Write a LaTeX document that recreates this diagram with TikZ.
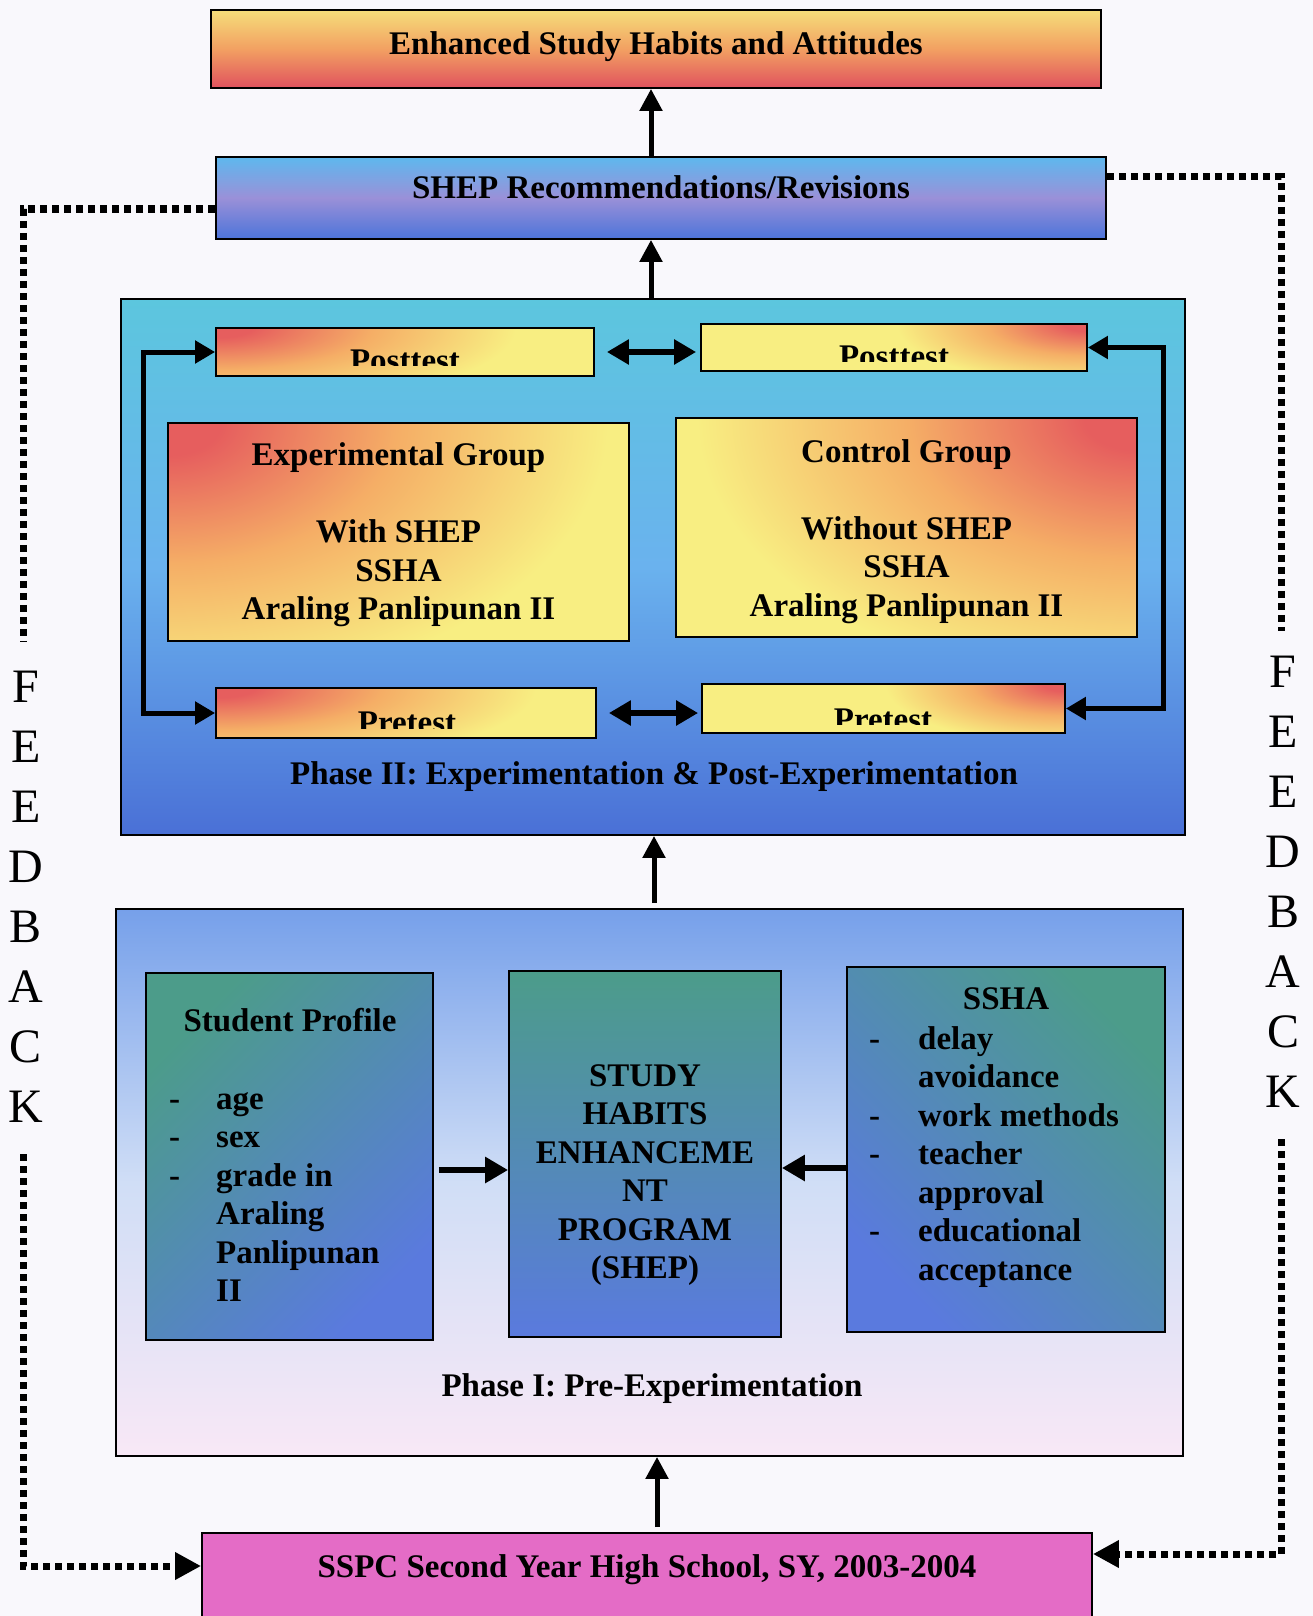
\documentclass[tikz,border=0pt]{standalone}
\usepackage{fontspec}
\setmainfont{Liberation Serif}
\usetikzlibrary{arrows.meta,calc}
\definecolor{bgc}{HTML}{F9F8FC}
\definecolor{topY}{HTML}{F5DE7A}
\definecolor{topO}{HTML}{F2A062}
\definecolor{topR}{HTML}{E0525E}
\definecolor{shepT}{HTML}{5EB8EE}
\definecolor{shepM}{HTML}{9A90D8}
\definecolor{shepB}{HTML}{4C74DA}
\definecolor{ptwoT}{HTML}{5CC6DE}
\definecolor{ptwoM}{HTML}{6AB2EE}
\definecolor{ptwoB}{HTML}{4A70D6}
\definecolor{rd}{HTML}{E65E5E}
\definecolor{orM}{HTML}{F5AE66}
\definecolor{yl}{HTML}{F8EE82}
\definecolor{poneT}{HTML}{76A0EA}
\definecolor{poneM}{HTML}{D0DEF6}
\definecolor{poneB}{HTML}{F8E8F6}
\definecolor{tl}{HTML}{4C9C8A}
\definecolor{bl}{HTML}{5A7ADE}
\definecolor{sspcc}{HTML}{E46CC6}
\pgfdeclareradialshading{cornR}{\pgfpoint{0bp}{0bp}}{color(0bp)=(rd); color(1.2bp)=(rd); color(5.2bp)=(orM); color(10bp)=(yl); color(50bp)=(yl)}
\begin{document}
\begin{tikzpicture}[x=1pt,y=-1pt,
  box/.style={draw=black, line width=1.8pt, rectangle, inner sep=0pt},
  cornbox/.style n args={3}{fill=yl, path picture={\shade[shading=cornR] (path picture bounding box.#1) ellipse [x radius=#2, y radius=#3];}},
  txt/.style={font=\fontsize{33}{38.5}\selectfont\bfseries, align=center, inner sep=0pt},
  fbt/.style={font=\fontsize{48}{60}\selectfont, align=center, inner sep=0pt},
  vert/.style={line width=5pt, -{Triangle[width=22pt,length=22pt]}},
  harrow/.style={line width=6pt, -{Triangle[width=25pt,length=23pt]}},
  dbl/.style={line width=6pt, {Triangle[width=24pt,length=22pt]}-{Triangle[width=24pt,length=22pt]}},
  loopar/.style={line width=5pt, {Triangle[width=22pt,length=20pt]}-{Triangle[width=22pt,length=20pt]}},
  fb/.style={line width=7pt, dash pattern=on 7pt off 5pt},
  fbhead/.style={-{Triangle[width=26pt,length=26pt]}}
]
\useasboundingbox[fill=bgc] (0,0) rectangle (1313,1616);

% top boxes
\node[box, txt, minimum width=890pt, minimum height=78pt, top color=topY, bottom color=topR, middle color=topO, text depth=11pt] (top) at (656,49) {Enhanced Study Habits and Attitudes};
\node[box, txt, minimum width=890pt, minimum height=82pt, top color=shepT, bottom color=shepB, middle color=shepM, text depth=21pt] (shep) at (661,198) {SHEP Recommendations/Revisions};

% Phase II
\node[box, minimum width=1064pt, minimum height=536pt, top color=ptwoT, bottom color=ptwoB, middle color=ptwoM] (ph2) at (653,567) {};
\node[txt] (ph2lab) at (654,777) {Phase II: Experimentation \& Post-Experimentation};

\node[box, cornbox={north west}{750pt}{200pt}, minimum width=378pt, minimum height=48pt] (postL) at (405,352) {};
\node[box, cornbox={north east}{476pt}{150pt}, minimum width=386pt, minimum height=47pt] (postR) at (894,347.5) {};
\node[box, cornbox={north west}{800pt}{200pt}, minimum width=380pt, minimum height=50pt] (preL) at (406,713) {};
\node[box, cornbox={north east}{450pt}{150pt}, minimum width=363pt, minimum height=49pt] (preR) at (883.5,708.5) {};

\begin{scope}
\clip (postL.north west) rectangle ($(postL.south east)+(0,-11)$);
\node[txt, anchor=base] (postLt) at (405,371) {Posttest};
\end{scope}
\begin{scope}
\clip (postR.north west) rectangle ($(postR.south east)+(0,-10)$);
\node[txt, anchor=base] (postRt) at (894,367.5) {Posttest};
\end{scope}
\begin{scope}
\clip (preL.north west) rectangle ($(preL.south east)+(0,-10.5)$);
\node[txt, anchor=base] (preLt) at (407,733.5) {Pretest};
\end{scope}
\begin{scope}
\clip (preR.north west) rectangle ($(preR.south east)+(0,-9)$);
\node[txt, anchor=base] (preRt) at (883,730) {Pretest};
\end{scope}

\node[box, cornbox={north west}{1100pt}{676pt}, minimum width=461pt, minimum height=218pt] (exp) at (398.5,532) {};
\node[txt] (exptxt) at (398.5,535) {Experimental Group\\[38.5pt]With SHEP\\SSHA\\Araling Panlipunan II};
\node[box, cornbox={north east}{1100pt}{676pt}, minimum width=461pt, minimum height=219pt] (ctl) at (906.5,527.5) {};
\node[txt] (ctltxt) at (906.5,531.5) {Control Group\\[38.5pt]Without SHEP\\SSHA\\Araling Panlipunan II};

% Phase I
\node[box, minimum width=1067pt, minimum height=547pt, top color=poneT, bottom color=poneB, middle color=poneM] (ph1) at (649.5,1182.5) {};
\node[txt] (ph1lab) at (652,1389) {Phase I: Pre-Experimentation};

\node[box, minimum width=287pt, minimum height=367pt, top color=tl, bottom color=bl, shading angle=45] (sp) at (289.5,1156.5) {};
\node[txt] (sptitle) at (290,1020) {Student Profile};
\node[txt, align=left, anchor=west] (splist) at (169,1198) {\strut\makebox[47pt][l]{-}age\\
\strut\makebox[47pt][l]{-}sex\\
\strut\makebox[47pt][l]{-}grade in\\
\strut\hspace*{47pt}Araling\\
\strut\hspace*{47pt}Panlipunan\\
\strut\hspace*{47pt}II};

\node[box, minimum width=272pt, minimum height=366pt, top color=tl, bottom color=bl] (mid) at (645,1154) {};
\node[txt] (midtxt) at (645,1175) {STUDY\\HABITS\\ENHANCEME\\NT\\PROGRAM\\(SHEP)};

\node[box, minimum width=318pt, minimum height=365pt, top color=tl, bottom color=bl, shading angle=-45] (ssha) at (1006,1149.5) {};
\node[txt] (sshatitle) at (1006,999) {SSHA};
\node[txt, align=left, anchor=west] (sshalist) at (869,1157) {\strut\makebox[49pt][l]{-}delay\\
\strut\hspace*{49pt}avoidance\\
\strut\makebox[49pt][l]{-}work methods\\
\strut\makebox[49pt][l]{-}teacher\\
\strut\hspace*{49pt}approval\\
\strut\makebox[49pt][l]{-}educational\\
\strut\hspace*{49pt}acceptance};

% bottom box
\node[box, txt, minimum width=890pt, minimum height=88pt, fill=sspcc, text depth=21pt] (sspc) at (647,1577) {SSPC Second Year High School, SY, 2003-2004};

% FEEDBACK letters
\node[fbt] (fbL) at (26,897) {F\\E\\E\\D\\B\\A\\C\\K};
\node[fbt] (fbR) at (1283,882) {F\\E\\E\\D\\B\\A\\C\\K};

% vertical arrows
\coordinate (ax) at (651,0);
\draw[vert] (ax |- shep.north) -- (ax |- top.south);
\draw[vert] (ax |- ph2.north) -- (ax |- shep.south);
\coordinate (bx) at (654,0);
\draw[vert, shorten <=5pt] (bx |- ph1.north) -- (bx |- ph2.south);
\coordinate (cx) at (657,0);
\draw[vert, shorten <=5pt] (cx |- sspc.north) -- (cx |- ph1.south);

% phase I arrows
\coordinate (hya) at (0,1170);
\draw[harrow, shorten <=5pt] (sp.east |- hya) -- (mid.west |- hya);
\coordinate (hyb) at (0,1168);
\draw[harrow] (ssha.west |- hyb) -- (mid.east |- hyb);

% phase II loops and double arrows
\draw[loopar] (postL.west) -- ++(-72,0) |- (preL.west);
\draw[loopar] (postR.east) -- ++(76,0) |- (preR.east);
\draw[dbl, shorten <=12pt, shorten >=4pt] (postL.east) -- (postL.east -| postR.west);
\draw[dbl, shorten <=12pt, shorten >=3pt] (preL.east) -- (preL.east -| preR.west);

% feedback dashed lines
\coordinate (fla) at (23,209);
\coordinate (flb) at (23,641);
\coordinate (flc) at (23,1154);
\coordinate (fld) at (23,1566);
\draw[fb] (shep.west |- fla) -- (fla) -- (flb);
\draw[fb, fbhead] (flc) -- (fld) -- (sspc.west |- fld);
\coordinate (fra) at (1281,177);
\coordinate (frb) at (1281,631);
\coordinate (frc) at (1281,1139);
\coordinate (frd) at (1281,1554);
\draw[fb] (shep.east |- fra) -- (fra) -- (frb);
\draw[fb, fbhead] (frc) -- (frd) -- (sspc.east |- frd);
\end{tikzpicture}
\end{document}
